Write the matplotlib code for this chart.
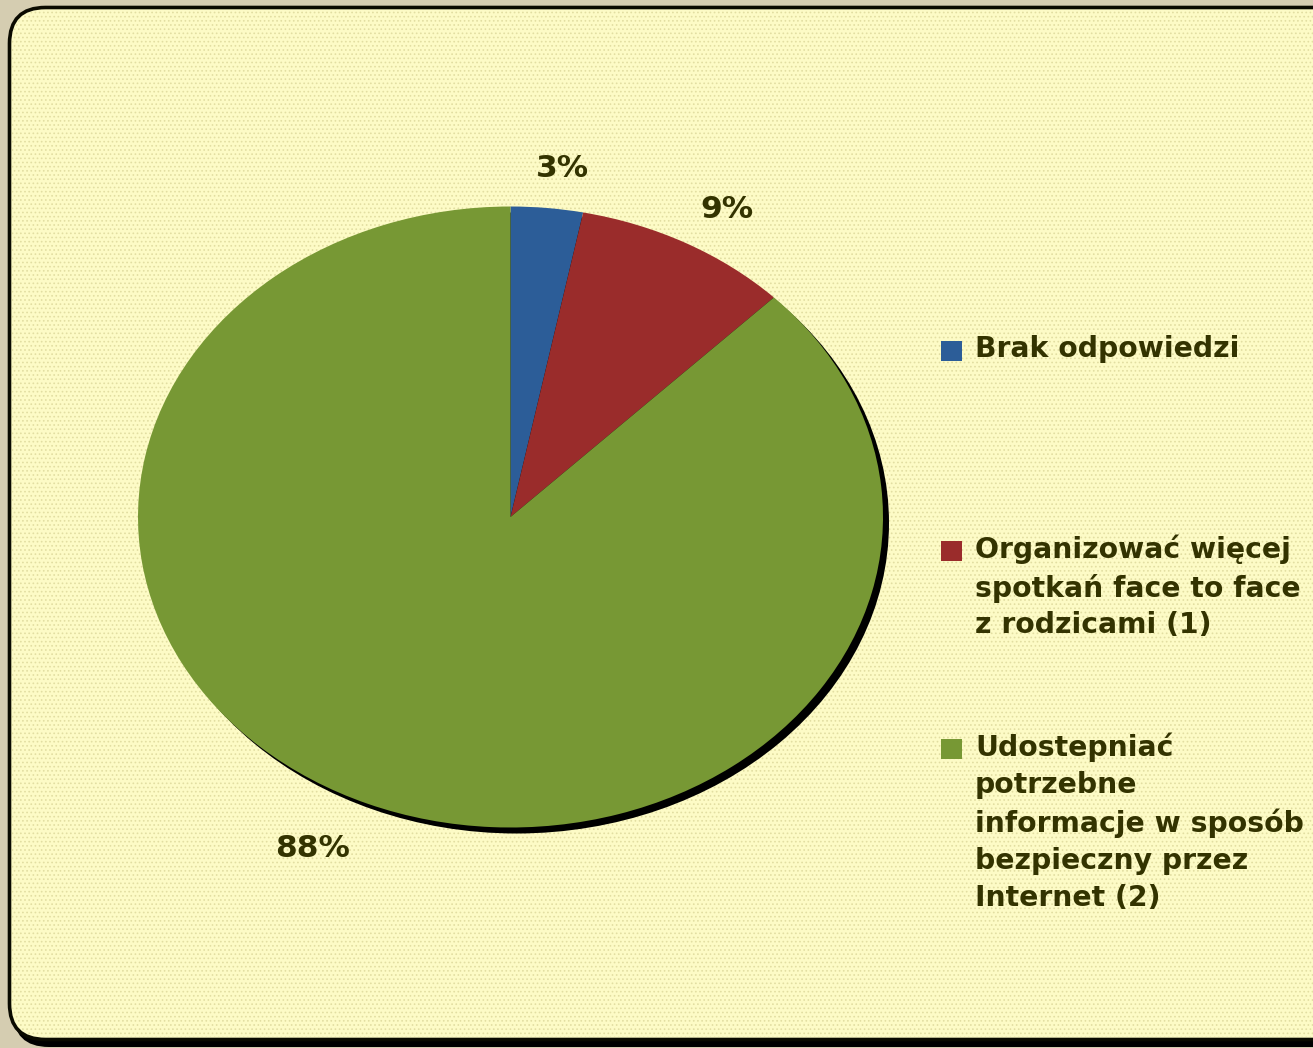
import matplotlib.pyplot as plt
from matplotlib.patches import FancyBboxPatch, Circle, Rectangle
from matplotlib.transforms import offset_copy

# ----------------------------
# Data
# ----------------------------
categories = [
    "Brak odpowiedzi",
    "Organizować więcej\nspotkań face to face\nz rodzicami (1)",
    "Udostepniać\npotrzebne\ninformacje w sposób\nbezpieczny przez\nInternet (2)",
]
counts = [1, 3, 28]
colors = ["#2c5d98", "#9a2c2b", "#779834"]

text_color = "#333300"
outer_bg = "#d5cdb1"
panel_bg = "#fdfbc6"

W, H = 1313, 1048
plt.rcParams["hatch.linewidth"] = 0.7
plt.rcParams["hatch.color"] = "#e2dea2"
fig = plt.figure(figsize=(W / 100, H / 100), dpi=100)
fig.patch.set_facecolor(outer_bg)

# ----------------------------
# Background panel (pixel coords)
# ----------------------------
bg = fig.add_axes([0, 0, 1, 1])
bg.set_xlim(0, W)
bg.set_ylim(H, 0)
bg.axis("off")

# shadow of the panel
bg.add_patch(FancyBboxPatch((13, 11), 1360, 1036,
                            boxstyle="round,pad=0,rounding_size=36",
                            facecolor="black", edgecolor="none"))
bg.add_patch(FancyBboxPatch((9.5, 7.5), 1360, 1032,
                            boxstyle="round,pad=0,rounding_size=36",
                            facecolor=panel_bg, edgecolor="#0a0a00",
                            linewidth=2.6))
# faint dotted texture
bg.add_patch(FancyBboxPatch((12, 10), 1360, 1027,
                            boxstyle="round,pad=0,rounding_size=34",
                            facecolor="none", edgecolor="#e2dea2",
                            linewidth=0, hatch="...."))

# ----------------------------
# Elliptical pie
# ----------------------------
cx, cy, rx, ry = 510.5, 517, 372.5, 310.5
k = 1.35
ax = fig.add_axes([(cx - k * rx) / W, 1 - (cy + k * ry) / H,
                   2 * k * rx / W, 2 * k * ry / H])

# drop shadow
ax.add_patch(Circle((6 / rx, -6 / ry), 1.0, facecolor="black",
                    edgecolor="none", zorder=0))

wedges, texts, autotexts = ax.pie(
    counts, colors=colors, startangle=90, counterclock=False,
    autopct="%.0f%%", pctdistance=1.16, radius=1.0,
    wedgeprops=dict(linewidth=0),
    textprops=dict(color=text_color, fontsize=22.5, fontweight="bold"),
    frame=True,
)
ax.set_xlim(-k, k)
ax.set_ylim(-k, k)
ax.set_aspect("auto")
ax.axis("off")
for w in wedges:
    w.set_zorder(1)

# Excel nudges its outside labels a little off the radial line
label_nudge = [(10, -10), (13, -10), (-33, 1)]
for t, (dx, dy) in zip(autotexts, label_nudge):
    t.set_transform(offset_copy(ax.transData, fig=fig, x=dx, y=dy,
                                units="dots"))

# ----------------------------
# Legend (drawn to match Excel's top-aligned keys)
# ----------------------------
legend_y = [351, 551, 749]
for label, col, y in zip(categories, colors, legend_y):
    bg.add_patch(Rectangle((941, y - 10), 21, 20, facecolor=col,
                           edgecolor="none"))
    bg.text(975, y - 16, label, ha="left", va="top", color=text_color,
            fontsize=20.3, fontweight="bold", linespacing=1.4)

fig.savefig("out.png", dpi=100, facecolor=fig.get_facecolor())
